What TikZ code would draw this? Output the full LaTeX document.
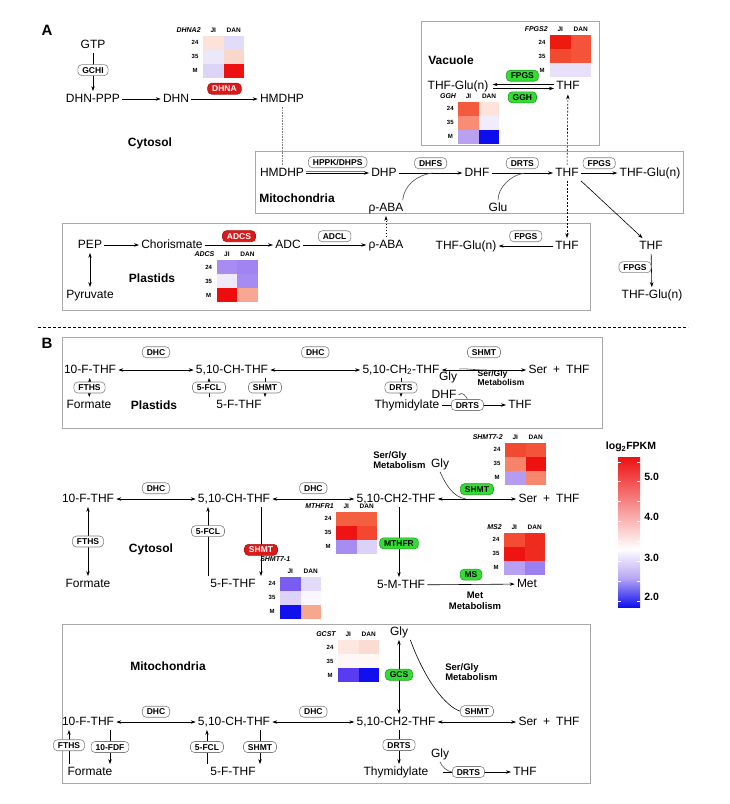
\documentclass[tikz,border=0pt]{standalone}
\usepackage{fontspec}
\setmainfont{Liberation Sans}
\usetikzlibrary{arrows.meta}
\usetikzlibrary{positioning}
\definecolor{enzred}{HTML}{DA1A1A}
\definecolor{enzgreen}{HTML}{33DD33}
\definecolor{boxgray}{HTML}{A8A8A8}
\definecolor{barred}{HTML}{EE1111}
\definecolor{barblue}{HTML}{1010EE}
\definecolor{barlav}{HTML}{B8A6F5}
\tikzstyle{met} = [font=\fontsize{12}{14}\selectfont, inner sep=2pt, text height=8.6pt, text depth=2.5pt]
\tikzstyle{enz} = [rectangle, rounded corners=4pt, draw=gray, fill=white, line width=0.6pt, font=\fontsize{8.5}{9}\selectfont\bfseries, inner xsep=4.5pt, inner ysep=2.4pt, text height=6.2pt, text depth=0pt]
\tikzstyle{enzr} = [enz, draw=enzred!80!black, fill=enzred, text=white]
\tikzstyle{enzg} = [enz, draw=enzgreen!70!black, fill=enzgreen]
\tikzstyle{comp} = [font=\fontsize{12}{14}\selectfont\bfseries]
\tikzstyle{meta} = [font=\fontsize{9.5}{10.5}\selectfont\bfseries, align=left, inner sep=0pt]
\tikzstyle{hl} = [font=\fontsize{6}{6}\selectfont\bfseries, inner sep=0pt]
\tikzstyle{hlg} = [font=\fontsize{7}{7}\selectfont\bfseries\itshape, inner sep=0pt]
\tikzstyle{legl} = [font=\fontsize{10.5}{12}\selectfont\bfseries, inner sep=0pt]
\tikzstyle{arrow} = [->]
\tikzstyle{box} = [draw=boxgray, line width=0.9pt]

% heat map: top left corner of the cells, gene, colours (JI 24,35,M then DAN 24,35,M), shift of the gene name
\newcommand{\heatmap}[6]{%
  \foreach \hex [count=\k from 0] in {#4}{
    \pgfmathtruncatemacro{\hcol}{\k/3}
    \pgfmathtruncatemacro{\hrow}{mod(\k,3)}
    \definecolor{cellc}{HTML}{\hex}
    \fill[cellc] ({#1+20.5*\hcol},{#2+14*\hrow}) rectangle ++(20.5,14);
  }
  \node[hlg, anchor=east] (#3) at ({#1-2+#5},{#2-5.5+#6}) {#3};
  \node[hl, font=\fontsize{6.5}{7}\selectfont\bfseries] (#3-ji) at ({#1+10.25},{#2-5.5}) {JI};
  \node[hl, font=\fontsize{6.5}{7}\selectfont\bfseries] (#3-dan) at ({#1+30.75},{#2-5.5}) {DAN};
  \foreach \lab [count=\i from 0] in {24,35,M}
    \node[hl] (#3-\lab) at ({#1-8},{#2+7+14*\i}) {\lab};
}

\begin{document}
\begin{tikzpicture}[x=1pt, y=-1pt, line width=0.6pt, >={Stealth[length=5pt,width=3.4pt]}]
  \useasboundingbox (0,0) rectangle (730,804);

  % ---------------- A ----------------
  \node[font=\fontsize{15}{17}\selectfont\bfseries] (labA) at (47,30) {A};

  % cytosol
  \node[met] (gtp) at (93,45) {GTP};
  \node[met] (dhnppp) at (93,99) {DHN-PPP};
  \node[met] (dhn) at (176,99) {DHN};
  \node[met] (hmdhp) at (282,99) {HMDHP};
  \node[comp] (cytA) at (150,143) {Cytosol};
  \draw[arrow] (gtp) -- node[enz, pos=0.45] (gchi) {GCHI} (dhnppp);
  \draw[arrow] (dhnppp) -- (dhn);
  \draw[arrow] (dhn) -- node[enzr, above=4.5pt] (dhna) {DHNA} (hmdhp);
  \heatmap{203}{35.5}{DHNA2}{FBE3DA,ECE7F9,DDD5F6,E3DCF8,F9D8CB,EE1111}{0}{0}

  % vacuole
  \draw[box, line width=0.6pt] (421,21) rectangle (599,145);
  \node[comp] (vac) at (451,60) {Vacuole};
  \node[met] (vthfglu) at (458,86.5) {THF-Glu(n)};
  \node[met] (vthf) at (568,86.5) {THF};
  \draw[arrow, shorten >=2pt] ([yshift=2pt]vthf.west) -- node[enzg, above=3pt] (vfpgs) {FPGS} ([yshift=2pt]vthfglu.east);
  \draw[arrow, shorten <=2pt] ([yshift=-2pt]vthfglu.east) -- node[enzg, below=3pt] (ggh) {GGH} ([yshift=-2pt]vthf.west);
  \heatmap{550}{35}{FPGS2}{EE1A0E,F24A30,E8E0F8,F5533B,F45538,E8E0F8}{0}{0}
  \heatmap{458.3}{101.5}{GGH}{F45A3E,F88C74,B9A1F0,FDE3DA,F0ECFB,0D0DEE}{0}{0}

  % mitochondria
  \draw[box] (255,151) rectangle (683,213);
  \node[met] (mhmdhp) at (282,173) {HMDHP};
  \node[met] (dhp) at (384,173) {DHP};
  \node[met] (dhf) at (477,173) {DHF};
  \node[met] (mthf) at (567,173) {THF};
  \node[met] (mthfglu) at (650,173) {THF-Glu(n)};
  \node[comp] (mitoA) at (297,198) {Mitochondria};
  \node[met] (mpaba) at (386,208) {ρ-ABA};
  \node[met] (glu) at (498,208) {Glu};
  \coordinate (jdhfs) at (433,173);
  \coordinate (jdrts) at (525,173);
  \draw[gray] ([yshift=1.6pt]mhmdhp.east) -- ([yshift=1.6pt,xshift=-4pt]dhp.west);
  \draw[arrow] (mhmdhp) -- node[enz, above=5pt] (hppk) {HPPK/DHPS} (dhp);
  \draw[arrow] (dhp) -- node[enz, above=4pt] (dhfs) {DHFS} (dhf);
  \draw[arrow] (dhf) -- node[enz, above=4pt] (mdrts) {DRTS} (mthf);
  \draw[arrow] (mthf) -- node[enz, above=4pt] (mfpgs) {FPGS} (mthfglu);
  \draw[gray!60!black] ([xshift=-3pt]mpaba.north east) .. controls (404,186) and (416,175) .. (jdhfs);
  \draw[gray!60!black] (glu.north) .. controls (498,188) and (510,175) .. (jdrts);
  \draw[densely dotted, gray] (hmdhp) -- (mhmdhp);

  % plastids
  \draw[box] (62,223) rectangle (590,310);
  \node[met] (pep) at (90,245) {PEP};
  \node[met] (chor) at (172,245) {Chorismate};
  \node[met] (adc) at (288,245) {ADC};
  \node[met] (ppaba) at (386,245) {ρ-ABA};
  \node[met] (pyr) at (90,295) {Pyruvate};
  \node[comp] (plastA) at (152,278) {Plastids};
  \node[met] (pthfglu) at (466,246) {THF-Glu(n)};
  \node[met] (pthf) at (567,246) {THF};
  \draw[arrow] (pep) -- (chor);
  \draw[<->] (pep) -- (pyr);
  \draw[arrow] (chor) -- node[enzr, above=3pt] (adcs) {ADCS} (adc);
  \draw[arrow] (adc) -- node[enz, above=3pt] (adcl) {ADCL} (ppaba);
  \draw[arrow] (pthf) -- node[enz, above=4pt] (pfpgs) {FPGS} (pthfglu);
  \draw[arrow, dash pattern=on 1.5pt off 1.5pt] (ppaba) -- (mpaba);
  \heatmap{216.7}{260}{ADCS}{A98CF2,EEEAFC,EE0D0D,A283F2,A58BF2,F8A793}{0}{0}

  % THF between the compartments
  \draw[arrow, dash pattern=on 2pt off 1.5pt] (mthf) -- (vthf);
  \draw[arrow, dash pattern=on 2pt off 1.5pt] (mthf) -- (pthf);
  \node[met] (rthf) at (651,246) {THF};
  \node[met] (rthfglu) at (652,295) {THF-Glu(n)};
  \draw[arrow] (mthf.south east) -- (rthf);
  \draw[arrow] (rthf) -- node[enz, left=0pt, pos=0.4] (rfpgs) {FPGS} (rthfglu);

  \draw[densely dashed] (38,327) -- (688,327);

  % ---------------- B ----------------
  \node[font=\fontsize{15}{17}\selectfont\bfseries] (labB) at (47,343) {B};

  % plastids
  \draw[box] (62,337) rectangle (602,428);
  \node[met] (pfthf) at (90,370) {10-F-THF};
  \node[met] (pchthf) at (232,370) {5,10-CH-THF};
  \node[met] (pch2thf) at (401,370) {5,10-CH\textsubscript{2}-THF};
  \node[met] (pser) at (559,370) {Ser\enspace+\enspace THF};
  \node[met] (pform) at (89,405) {Formate};
  \node[comp] (plastB) at (154,405) {Plastids};
  \node[met] (p5fthf) at (239,405) {5-F-THF};
  \node[met] (pthym) at (407,405) {Thymidylate};
  \node[met] (pgly) at (448,377) {Gly};
  \node[met] (pdhf) at (444,395) {DHF};
  \node[met] (pthf2) at (520,405) {THF};
  \node[meta, font=\fontsize{8.5}{9.5}\selectfont\bfseries] (psg) at (501,378) {Ser/Gly\\Metabolism};
  \coordinate (pjs) at (487,370);
  \draw[<->] (pfthf) -- node[enz, above=12pt] (pdhc1) {DHC} (pchthf);
  \draw[<->] (pchthf) -- node[enz, above=12pt] (pdhc2) {DHC} (pch2thf);
  \draw[<->] (pch2thf) -- node[enz, above=12pt] (pshmt) {SHMT} (pser);
  \draw[<->] (pfthf) -- node[enz] (pfths) {FTHS} (pform);
  \draw[arrow] (p5fthf.north -| 209,0) -- node[enz] (pfcl) {5-FCL} (pchthf.south -| 209,0);
  \draw[arrow] (pchthf.south -| 265,0) -- node[enz] (pshmt2) {SHMT} (p5fthf.north -| 265,0);
  \draw[arrow] (pch2thf) -- node[enz] (pdrts) {DRTS} (pch2thf |- pthym.north);
  \draw[arrow] (pthym) -- node[enz, pos=0.4] (pdrts2) {DRTS} (pthf2);
  \draw[gray!60!black] (pgly.north east) .. controls (462,368) and (474,370) .. (pjs);
  \draw[gray!60!black] (pdhf.east) .. controls (462,391) and (466,396) .. (pdrts2.north);

  % cytosol
  \node[met] (cfthf) at (88,499) {10-F-THF};
  \node[met] (cchthf) at (234,499) {5,10-CH-THF};
  \node[met] (cch2thf) at (396,499) {5,10-CH2-THF};
  \node[met] (cser) at (549,499) {Ser\enspace+\enspace THF};
  \node[met] (cform) at (88,584) {Formate};
  \node[comp] (cytB) at (151,549) {Cytosol};
  \node[met] (c5fthf) at (233,584) {5-F-THF};
  \node[met] (c5mthf) at (401,585) {5-M-THF};
  \node[met] (cmet) at (527,584) {Met};
  \node[met] (cgly) at (440,464) {Gly};
  \node[meta, anchor=west] (csg) at (373,460) {Ser/Gly\\Metabolism};
  \node[meta, align=center] (cmm) at (475,601) {Met\\Metabolism};
  \coordinate (cjs) at (466,499);
  \draw[<->] (cfthf) -- node[enz, above=5pt] (cdhc1) {DHC} (cchthf);
  \draw[<->] (cchthf) -- node[enz, above=5pt] (cdhc2) {DHC} (cch2thf);
  \draw[<->] (cch2thf) -- node[enzg, above=4pt] (cshmt) {SHMT} (cser);
  \draw[<->] (cfthf) -- node[enz] (cfths) {FTHS} (cform);
  \draw[arrow] (c5fthf.north -| 208,0) -- node[enz, pos=0.65] (cfcl) {5-FCL} (cchthf.south -| 208,0);
  \draw[arrow] (cchthf.south -| 261,0) -- node[enzr, pos=0.62] (cshmt2) {SHMT} (c5fthf.north -| 261,0);
  \draw[arrow] (cch2thf.south -| 399,0) -- node[enzg, pos=0.52] (mthfr) {MTHFR} (c5mthf.north -| 399,0);
  \draw[arrow] (c5mthf) -- node[enzg, above=4pt] (ms) {MS} (cmet);
  \draw[gray!40!black] (cgly.south) .. controls (446,485) and (453,497) .. (cjs);
  \heatmap{336}{511.7}{MTHFR1}{F4603F,EE1414,A78CF2,F4603F,F3482F,DCD2F8}{0}{0}
  \heatmap{280}{576.7}{SHMT7-1}{7A5CF0,DDD3F8,1111EE,E3DCF8,FAF8FE,F8A78F}{12.5}{-12.4}
  \heatmap{505}{442.7}{SHMT7-2}{F24A30,F6836A,B39CF2,F4553A,EE1111,F6876D}{0}{0}
  \heatmap{504}{532.7}{MS2}{F44C34,EE1414,B7A0F2,EF2A1E,EF2A1E,9A7EF2}{0}{0}

  % colour key
  \shade[top color=barred, bottom color=white] (618,457) rectangle (640,549);
  \shade[top color=white, bottom color=barblue, middle color=barlav] (618,549) rectangle (640,607);
  \foreach \t in {462,481,501,521,541,561,581,601}
    \draw[white, line width=0.5pt] (618,\t) -- (621,\t) (637,\t) -- (640,\t);
  \node[legl] (keyt) at (631,447) {log\textsubscript{2}FPKM};
  \node[legl, anchor=west] (k50) at (644,477) {5.0};
  \node[legl, anchor=west] (k40) at (644,517) {4.0};
  \node[legl, anchor=west] (k30) at (644,558) {3.0};
  \node[legl, anchor=west] (k20) at (644,597) {2.0};

  % mitochondria
  \draw[box] (62,624) rectangle (590,783);
  \node[comp] (mitoB) at (168,666) {Mitochondria};
  \node[met] (mgly) at (399,632) {Gly};
  \node[met] (mfthf) at (88,722) {10-F-THF};
  \node[met] (mchthf) at (234,722) {5,10-CH-THF};
  \node[met] (mch2thf) at (396,722) {5,10-CH2-THF};
  \node[met] (mser) at (549,722) {Ser\enspace+\enspace THF};
  \node[meta, anchor=west] (msg) at (445,672) {Ser/Gly\\Metabolism};
  \node[met] (mform) at (90,772) {Formate};
  \node[met] (m5fthf) at (233,772) {5-F-THF};
  \node[met] (mthym) at (396,772) {Thymidylate};
  \node[met] (mgly2) at (440,754) {Gly};
  \node[met] (mthf2) at (525,772) {THF};
  \draw[<->] (mgly) -- node[enzg, pos=0.47] (gcs) {GCS} (mgly |- mch2thf.north);
  \draw[<->] (mfthf) -- node[enz, above=4.5pt] (mdhc1) {DHC} (mchthf);
  \draw[<->] (mchthf) -- node[enz, above=4.5pt] (mdhc2) {DHC} (mch2thf);
  \draw[<->] (mch2thf) -- node[enz, above=5pt] (mshmt) {SHMT} (mser);
  \draw[arrow] (mform.north -| 69,0) -- node[enz, pos=0.55] (mfths) {FTHS} (mfthf.south -| 69,0);
  \draw[arrow] (mfthf.south -| 110,0) -- node[enz, pos=0.5] (fdf) {10-FDF} (mform.north -| 110,0);
  \draw[arrow] (m5fthf.north -| 207,0) -- node[enz] (mfcl) {5-FCL} (mchthf.south -| 207,0);
  \draw[arrow] (mchthf.south -| 260,0) -- node[enz] (mshmt2) {SHMT} (m5fthf.north -| 260,0);
  \draw[arrow] (mch2thf.south -| 399,0) -- node[enz, pos=0.44] (mdrts1) {DRTS} (mthym.north -| 399,0);
  \draw[arrow, shorten <=12pt] (mthym) -- node[enz, pos=0.47] (mdrts2) {DRTS} (mthf2);
  \draw[black] (mgly.south east) .. controls (425,680) and (445,706) .. (mshmt.west);
  \draw[gray!60!black] (mgly2.south) .. controls (441,766) and (448,772) .. (mdrts2.west);
  \heatmap{338}{640}{GCST}{FDE8E0,FDF8F6,5A3CF0,FBDCD2,FDF8F6,1010EE}{0}{0}

\end{tikzpicture}
\end{document}
